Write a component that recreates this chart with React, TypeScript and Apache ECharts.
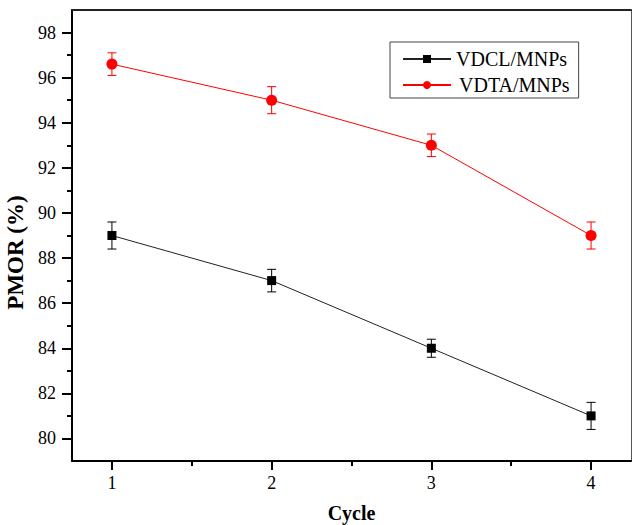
import React, { useEffect, useRef } from "react";
import * as echarts from "echarts";

const cycles = [1, 2, 3, 4];
const vdcl = [89, 87, 84, 81];
const vdclErr = [0.6, 0.5, 0.4, 0.6];
const vdta = [96.6, 95, 93, 89];
const vdtaErr = [0.5, 0.6, 0.5, 0.6];
const yMajorTicks = [80, 82, 84, 86, 88, 90, 92, 94, 96, 98];
const yMinorTicks = [81, 83, 85, 87, 89, 91, 93, 95, 97];
const xMajorTicks = [1, 2, 3, 4];
const xMinorTicks = [1.5, 2.5, 3.5];
const seriesNames = ["VDCL/MNPs", "VDTA/MNPs"];

const FONT = "Liberation Serif";

function errorSeries(name: string, xs: number[], ys: number[], errs: number[], color: string) {
  return {
    name,
    type: "custom",
    xAxisIndex: 0,
    yAxisIndex: 0,
    z: 1,
    data: xs.map((x, i) => [x, ys[i] - errs[i], ys[i] + errs[i]]),
    encode: { x: 0, y: [1, 2] },
    renderItem: (params: any, api: any) => {
      const x = api.value(0);
      const lo = api.value(1);
      const hi = api.value(2);
      const top = api.coord([x, hi]);
      const bot = api.coord([x, lo]);
      const hw = 4.5;
      const style = { stroke: color, lineWidth: 1 };
      return {
        type: "group",
        children: [
          { type: "line", shape: { x1: top[0], y1: top[1], x2: bot[0], y2: bot[1] }, style },
          { type: "line", shape: { x1: top[0] - hw, y1: top[1], x2: top[0] + hw, y2: top[1] }, style },
          { type: "line", shape: { x1: bot[0] - hw, y1: bot[1], x2: bot[0] + hw, y2: bot[1] }, style },
        ],
      };
    },
  };
}

export default function App() {
  const ref = useRef<HTMLDivElement>(null);
  useEffect(() => {
    if (!ref.current) return;
    const chart = echarts.init(ref.current, null, { renderer: "svg" });
    const hidden = { show: false };
    chart.setOption({
      animation: false,
      backgroundColor: "#fff",
      textStyle: { fontFamily: FONT },
      grid: { left: 72, right: 1, top: 10, bottom: 64, containLabel: false, outerBoundsMode: "none" },
      legend: {
        data: seriesNames,
        orient: "vertical",
        left: 390,
        top: 42,
        padding: [7, 9, 3, 12],
        itemGap: 6,
        itemWidth: 48,
        itemHeight: 10,
        borderColor: "#444",
        borderWidth: 1,
        formatter: (name: string) => (name === "VDTA/MNPs" ? "{b|" + name + "}" : "{a|" + name + "}"),
        textStyle: {
          fontFamily: FONT,
          fontSize: 20,
          color: "#000",
          rich: {
            a: { fontFamily: FONT, fontSize: 20, color: "#000" },
            b: { fontFamily: FONT, fontSize: 20, color: "#000", padding: [0, 0, 0, 3] },
          },
        },
      },
      xAxis: [
        {
          type: "value",
          min: 0.75,
          max: 4.25,
          position: "bottom",
          name: "Cycle",
          nameLocation: "middle",
          nameGap: 42,
          nameTextStyle: { fontFamily: FONT, fontSize: 20, fontWeight: "bold", color: "#000" },
          axisLine: { show: true, lineStyle: { color: "#000", width: 2 } },
          axisTick: { show: true, length: 9, lineStyle: { color: "#000", width: 2 }, customValues: xMajorTicks },
          axisLabel: { margin: 13, fontFamily: FONT, fontSize: 18, color: "#000", customValues: xMajorTicks },
          splitLine: hidden,
        },
        {
          type: "value",
          min: 0.75,
          max: 4.25,
          position: "bottom",
          axisLine: hidden,
          axisTick: { show: true, length: 5, lineStyle: { color: "#000", width: 2 }, customValues: xMinorTicks },
          axisLabel: hidden,
          splitLine: hidden,
        },
        {
          type: "value",
          min: 0.75,
          max: 4.25,
          position: "top",
          axisLine: { show: true, lineStyle: { color: "#222", width: 2 } },
          axisTick: hidden,
          axisLabel: hidden,
          splitLine: hidden,
        },
      ],
      yAxis: [
        {
          type: "value",
          min: 79,
          max: 99,
          position: "left",
          name: "PMOR (%)",
          nameLocation: "middle",
          nameGap: 39,
          nameTextStyle: {
            fontFamily: FONT,
            fontSize: 23,
            fontWeight: "bold",
            color: "#000",
            padding: [0, 34, 0, 0],
          },
          axisLine: { show: true, lineStyle: { color: "#000", width: 2 } },
          axisTick: { show: true, length: 10, lineStyle: { color: "#000", width: 2 }, customValues: yMajorTicks },
          axisLabel: { margin: 16, fontFamily: FONT, fontSize: 18, color: "#000", customValues: yMajorTicks },
          splitLine: hidden,
        },
        {
          type: "value",
          min: 79,
          max: 99,
          position: "left",
          axisLine: hidden,
          axisTick: { show: true, length: 5, lineStyle: { color: "#000", width: 2 }, customValues: yMinorTicks },
          axisLabel: hidden,
          splitLine: hidden,
        },
        {
          type: "value",
          min: 79,
          max: 99,
          position: "right",
          axisLine: { show: true, lineStyle: { color: "#555", width: 1 } },
          axisTick: hidden,
          axisLabel: hidden,
          splitLine: hidden,
        },
      ],
      series: [
        errorSeries("VDCL err", cycles, vdcl, vdclErr, "#000"),
        errorSeries("VDTA err", cycles, vdta, vdtaErr, "#ff0000"),
        {
          name: seriesNames[0],
          type: "line",
          xAxisIndex: 0,
          yAxisIndex: 0,
          z: 3,
          data: cycles.map((c, i) => [c, vdcl[i]]),
          symbol: "rect",
          symbolSize: 9,
          itemStyle: { color: "#000" },
          lineStyle: { color: "#222", width: 1 },
        },
        {
          name: seriesNames[1],
          type: "line",
          xAxisIndex: 0,
          yAxisIndex: 0,
          z: 3,
          data: cycles.map((c, i) => [c, vdta[i]]),
          symbol: "circle",
          symbolSize: 11,
          itemStyle: { color: "#ff0000" },
          lineStyle: { color: "#ff0000", width: 1 },
        },
      ],
    });
    return () => chart.dispose();
  }, []);
  return (
    <div
      ref={ref}
      style={{ position: "fixed", left: 0, top: 0, width: 632, height: 525, background: "#fff" }}
    />
  );
}
